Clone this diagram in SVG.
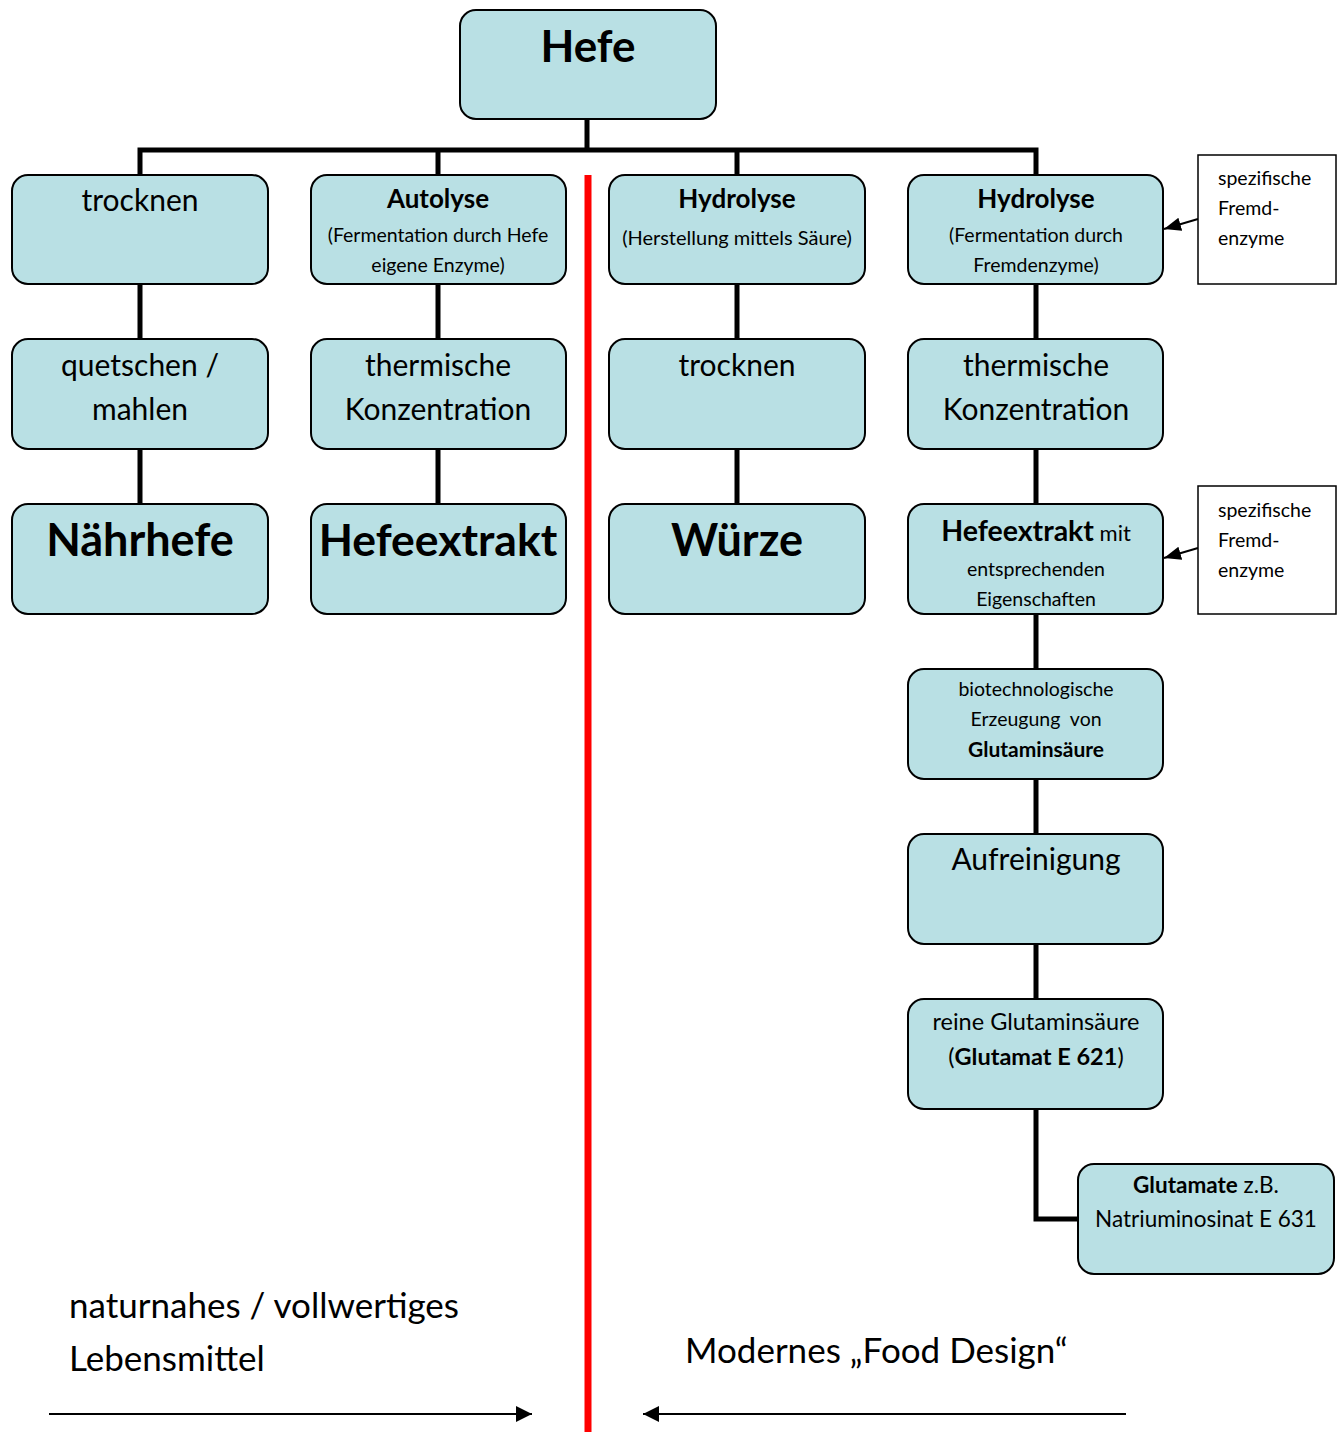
<svg xmlns="http://www.w3.org/2000/svg" width="1344" height="1432" viewBox="0 0 1344 1432">
<defs>
<style>
.n{fill:#b9e0e4;stroke:#000;stroke-width:2}
.s{fill:#fff;stroke:#000;stroke-width:1.5}
.c{stroke:#000;stroke-width:5;fill:none}
.a{stroke:#000;stroke-width:2;fill:none}
text{font-family:Lato,"Open Sans","Liberation Sans",sans-serif;fill:#000;text-anchor:middle}
.b{font-weight:bold}
.l{text-anchor:start}
</style>
<marker id="ah2" viewBox="0 0 10 10" refX="10" refY="5" markerWidth="17" markerHeight="17" markerUnits="userSpaceOnUse" orient="auto"><path d="M0,1L10,5L0,9z" fill="#000"/></marker>
<marker id="ah3" viewBox="0 0 10 10" refX="10" refY="5" markerWidth="16" markerHeight="16" markerUnits="userSpaceOnUse" orient="auto"><path d="M0,0L10,5L0,10z" fill="#000"/></marker>
</defs>
<g id="connectors">
<path class="c" d="M587,119V150M140,175V150H1036V175M438,150V175M737,150V175"/>
<path class="c" d="M140,284V339M140,449V504M438,284V339M438,449V504M737,284V339M737,449V504"/>
<path class="c" d="M1036,284V339M1036,449V504M1036,614V669M1036,779V834M1036,944V999M1036,1109V1219H1078"/>
<line class="a" x1="1198" y1="219" x2="1164" y2="229" marker-end="url(#ah2)"/>
<line class="a" x1="1198" y1="548" x2="1164" y2="558" marker-end="url(#ah2)"/>
<line x1="588" y1="175" x2="588" y2="1432" stroke="#ff0000" stroke-width="7"/>
<line class="a" x1="49" y1="1414" x2="532" y2="1414" stroke-width="2.5" marker-end="url(#ah3)"/>
<line class="a" x1="1126" y1="1414" x2="643" y2="1414" stroke-width="2.5" marker-end="url(#ah3)"/>
</g>
<g id="hefe"><rect class="n" x="460" y="10" width="256" height="109" rx="16"/><text x="588" y="62" class="b" font-size="44">Hefe</text></g>
<g id="trocknen1"><rect class="n" x="12" y="175" width="256" height="109" rx="16"/><text x="140" y="211" font-size="30">trocknen</text></g>
<g id="autolyse"><rect class="n" x="311" y="175" width="255" height="109" rx="16"/><text x="438" y="208" class="b" font-size="26">Autolyse</text><text x="438" y="242" font-size="19.5">(Fermentation durch Hefe</text><text x="438" y="272" font-size="19.5">eigene Enzyme)</text></g>
<g id="hydrolyse1"><rect class="n" x="609" y="175" width="256" height="109" rx="16"/><text x="737" y="208" class="b" font-size="26">Hydrolyse</text><text x="737" y="245" font-size="20">(Herstellung mittels Säure)</text></g>
<g id="hydrolyse2"><rect class="n" x="908" y="175" width="255" height="109" rx="16"/><text x="1036" y="208" class="b" font-size="26">Hydrolyse</text><text x="1036" y="242" font-size="19.5">(Fermentation durch</text><text x="1036" y="272" font-size="19.5">Fremdenzyme)</text></g>
<g id="enzyme1"><rect class="s" x="1198" y="155" width="138" height="129"/><text class="l" x="1218" y="185" font-size="19.5">spezifische</text><text class="l" x="1218" y="215" font-size="19.5">Fremd-</text><text class="l" x="1218" y="245" font-size="19.5">enzyme</text></g>
<g id="quetschen"><rect class="n" x="12" y="339" width="256" height="110" rx="16"/><text x="140" y="376" font-size="30">quetschen /</text><text x="140" y="420" font-size="30">mahlen</text></g>
<g id="thermisch1"><rect class="n" x="311" y="339" width="255" height="110" rx="16"/><text x="438" y="376" font-size="30">thermische</text><text x="438" y="420" font-size="30">Konzentration</text></g>
<g id="trocknen2"><rect class="n" x="609" y="339" width="256" height="110" rx="16"/><text x="737" y="376" font-size="30">trocknen</text></g>
<g id="thermisch2"><rect class="n" x="908" y="339" width="255" height="110" rx="16"/><text x="1036" y="376" font-size="30">thermische</text><text x="1036" y="420" font-size="30">Konzentration</text></g>
<g id="naehrhefe"><rect class="n" x="12" y="504" width="256" height="110" rx="16"/><text x="140" y="556" class="b" font-size="45">Nährhefe</text></g>
<g id="hefeextrakt"><rect class="n" x="311" y="504" width="255" height="110" rx="16"/><text x="438" y="556" class="b" font-size="44.5">Hefeextrakt</text></g>
<g id="wuerze"><rect class="n" x="609" y="504" width="256" height="110" rx="16"/><text x="737" y="556" class="b" font-size="45">Würze</text></g>
<g id="hefeextrakt2"><rect class="n" x="908" y="504" width="255" height="110" rx="16"/><text x="1036" y="541"><tspan class="b" font-size="28.5">Hefeextrakt</tspan><tspan font-size="22"> mit</tspan></text><text x="1036" y="576" font-size="19.5">entsprechenden</text><text x="1036" y="606" font-size="19.5">Eigenschaften</text></g>
<g id="enzyme2"><rect class="s" x="1198" y="486" width="138" height="128"/><text class="l" x="1218" y="517" font-size="19.5">spezifische</text><text class="l" x="1218" y="547" font-size="19.5">Fremd-</text><text class="l" x="1218" y="577" font-size="19.5">enzyme</text></g>
<g id="biotech"><rect class="n" x="908" y="669" width="255" height="110" rx="16"/><text x="1036" y="696" font-size="19.5">biotechnologische</text><text x="1036" y="726" font-size="19.5" xml:space="preserve">Erzeugung  von</text><text x="1036" y="757" class="b" font-size="21">Glutaminsäure</text></g>
<g id="aufreinigung"><rect class="n" x="908" y="834" width="255" height="110" rx="16"/><text x="1036" y="870" font-size="30">Aufreinigung</text></g>
<g id="reine"><rect class="n" x="908" y="999" width="255" height="110" rx="16"/><text x="1036" y="1030" font-size="23.5">reine Glutaminsäure</text><text x="1036" y="1065" font-size="23.5">(<tspan class="b">Glutamat E 621</tspan>)</text></g>
<g id="glutamate"><rect class="n" x="1078" y="1164" width="256" height="110" rx="16"/><text x="1206" y="1193" font-size="22.5"><tspan class="b">Glutamate</tspan> z.B.</text><text x="1206" y="1227" font-size="22.5">Natriuminosinat E 631</text></g>
<g id="labels"><text class="l" x="69" y="1318" font-size="35">naturnahes / vollwertiges</text><text class="l" x="69" y="1371" font-size="35">Lebensmittel</text><text class="l" x="685" y="1363" font-size="35">Modernes „Food Design“</text></g>
</svg>
